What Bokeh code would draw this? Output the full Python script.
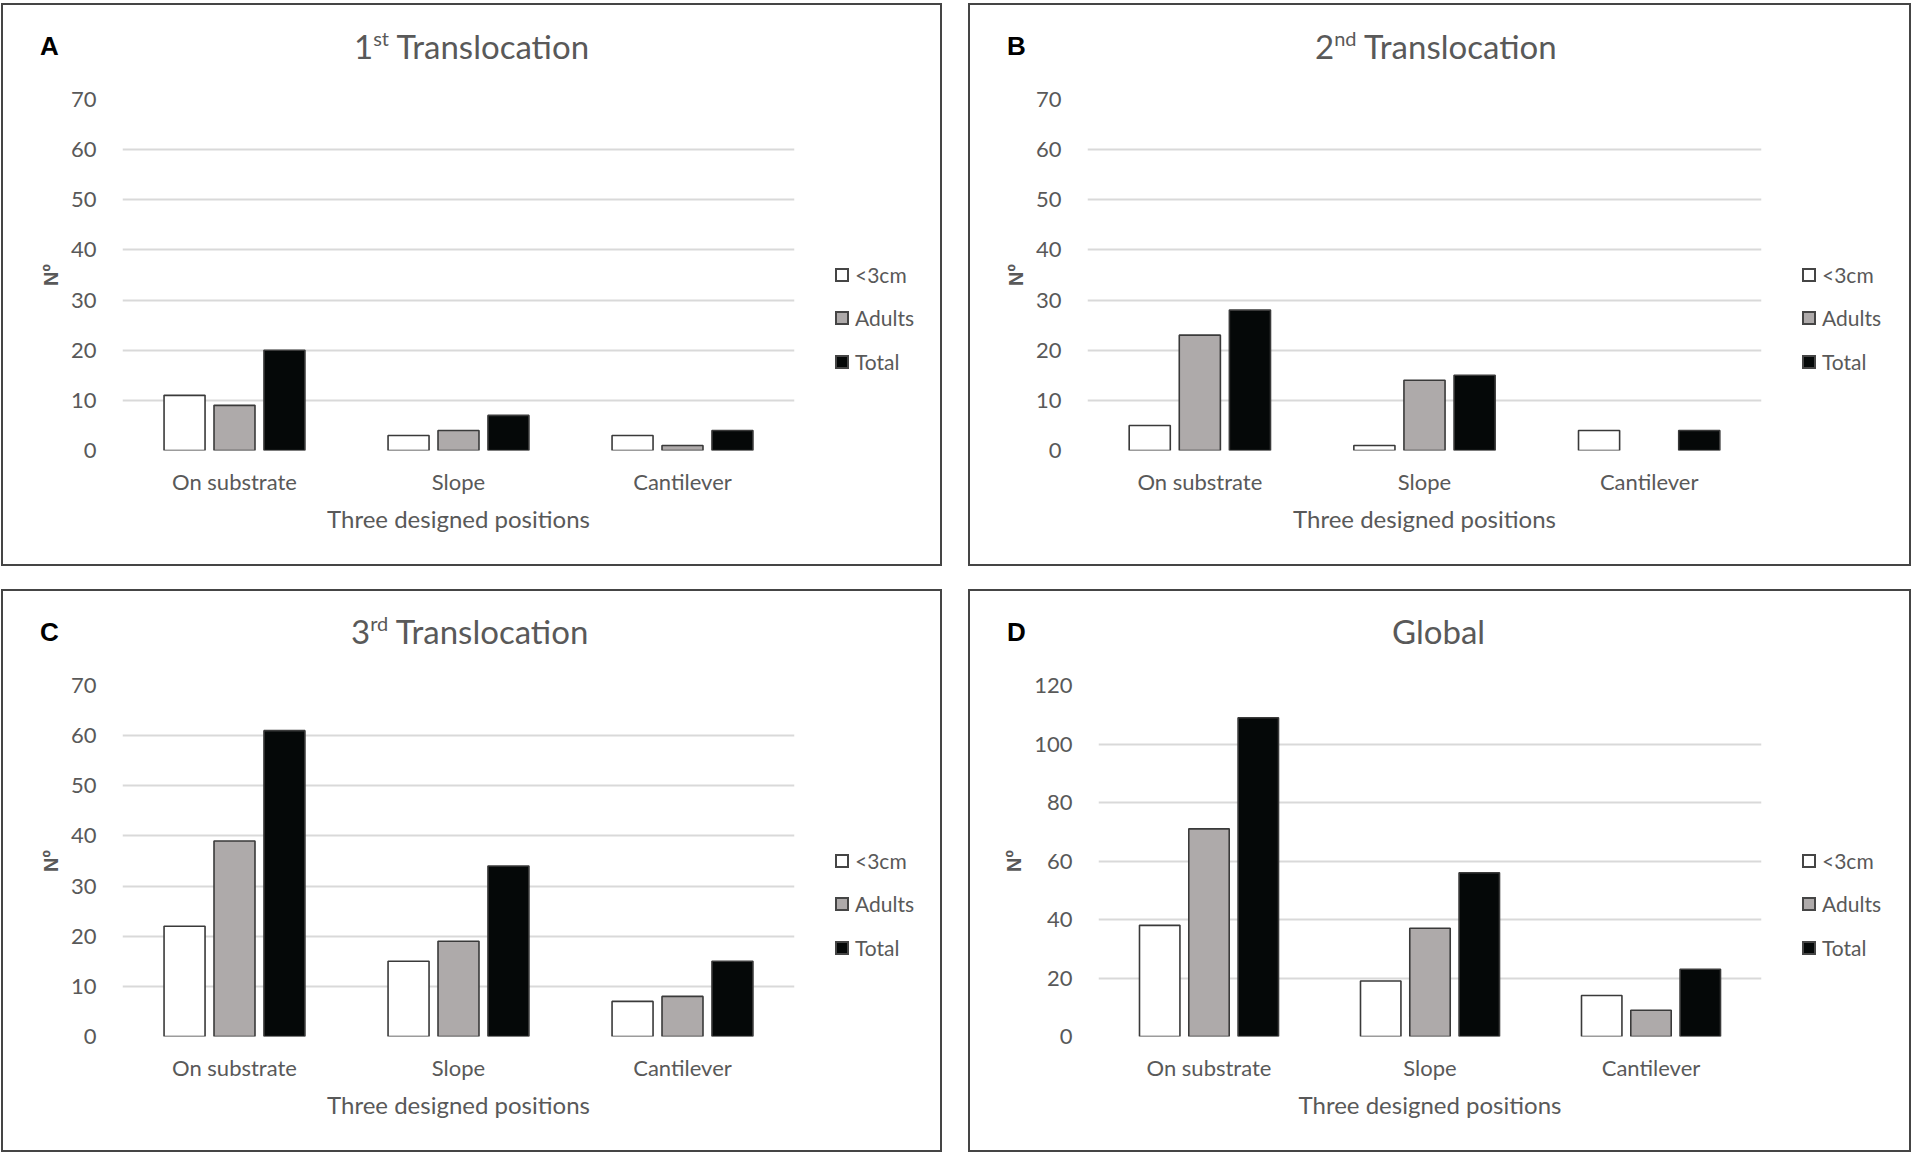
import html
from bokeh.plotting import figure
from bokeh.layouts import row, column
from bokeh.models import (FactorRange, Range1d, SingleIntervalTicker, ColumnDataSource,
                          CDSView, BooleanFilter, Div, Spacer)
from bokeh.transform import dodge
from bokeh.embed import file_html
from bokeh.resources import INLINE

# ---------------- data ----------------
positions = ["On substrate", "Slope", "Cantilever"]
series_names = ["<3cm", "Adults", "Total"]

t1_small = [11, 3, 3]
t1_adults = [9, 4, 1]
t1_total = [20, 7, 4]

t2_small = [5, 1, 4]
t2_adults = [23, 14, 0]
t2_total = [28, 15, 4]

t3_small = [22, 15, 7]
t3_adults = [39, 19, 8]
t3_total = [61, 34, 15]

gl_small = [38, 19, 14]
gl_adults = [71, 37, 9]
gl_total = [109, 56, 23]

x_title = "Three designed positions"
y_title = "Nº"

# ---------------- style ----------------
FONT = "Lato"
TXT = "#595959"
GRID = "#D9D9D9"
EDGE = "#3a3a3a"
BORDER = "#454545"
FILLS = ["#FFFFFF", "#AEAAAA", "#050808"]

PANEL_H = 563          # outer height incl. 2px border
INNER_H = PANEL_H - 4
TITLE_H = 62
FIG_H = INNER_H - TITLE_H
FIG_W = 793
FRAME_TOP = 94 - TITLE_H
FRAME_H = 351


def bar(w, h):
    return Div(text="", width=w, height=h, margin=0,
               styles={"background-color": BORDER})


def legend_html(width):
    rows = []
    for name, fill, cy in zip(series_names, FILLS, [208, 251, 295]):
        rows.append(
            f'<div style="position:absolute;left:39px;top:{cy - 13}px;height:26px;'
            f'display:flex;align-items:center;white-space:nowrap;">'
            f'<span style="display:inline-block;box-sizing:border-box;width:14px;height:14px;'
            f'background:{fill};border:2px solid {BORDER};"></span>'
            f'<span style="margin-left:6px;font-family:Lato;font-size:21px;color:{TXT};'
            f'line-height:26px;">{html.escape(name)}</span></div>')
    return (f'<div style="position:relative;width:{width}px;height:{FIG_H}px;">'
            + "".join(rows) + "</div>")


def title_html(width, letter, main, sup, rest, tx, ttop):
    if sup:
        title = (f'{main}<span style="font-size:20px;position:relative;top:-13px;'
                 f'line-height:0;">{sup}</span> {rest}')
    else:
        title = main
    return (f'<div style="position:relative;width:{width}px;height:{TITLE_H}px;">'
            f'<div style="position:absolute;left:37px;top:28px;font-family:\'Liberation Sans\';'
            f'font-weight:bold;font-size:26px;line-height:26px;color:black;">{letter}</div>'
            f'<div style="position:absolute;left:{tx}px;top:{ttop}px;font-family:Lato;'
            f'font-size:33px;line-height:33px;color:{TXT};white-space:nowrap;">{title}</div>'
            f'</div>')


def make_panel(inner_w, letter, main, sup, rest, tx, ttop, small, adults, total,
               ymax, ystep, left):
    p = figure(width=FIG_W, height=FIG_H, output_backend="svg", toolbar_location=None,
               x_range=FactorRange(factors=positions, range_padding=0),
               y_range=Range1d(0, ymax),
               min_border_left=left, min_border_right=2,
               min_border_top=FRAME_TOP, min_border_bottom=FIG_H - FRAME_TOP - FRAME_H,
               outline_line_color=None, background_fill_color="white",
               border_fill_color="white", margin=0)
    src = ColumnDataSource(dict(pos=positions, small=small, adults=adults, total=total))
    for key, off, fill in zip(["small", "adults", "total"], [-0.223, 0.0, 0.223], FILLS):
        view = CDSView(filter=BooleanFilter([v > 0 for v in src.data[key]]))
        p.vbar(x=dodge("pos", off, range=p.x_range), top=key, width=0.183,
               source=src, view=view, fill_color=fill, line_color=EDGE, line_width=1.6)

    p.yaxis.ticker = SingleIntervalTicker(interval=ystep)
    p.ygrid.ticker = SingleIntervalTicker(interval=ystep)
    p.ygrid.grid_line_color = GRID
    p.ygrid.grid_line_width = 2
    p.xgrid.grid_line_color = None

    for ax in (p.xaxis[0], p.yaxis[0]):
        ax.axis_line_color = None
        ax.major_tick_line_color = None
        ax.minor_tick_line_color = None
        ax.major_tick_out = 0
        ax.major_label_text_font = FONT
        ax.major_label_text_font_size = "22px"
        ax.major_label_text_color = TXT
        ax.axis_label_text_color = TXT
        ax.axis_label_text_font = FONT
        ax.axis_label_text_font_style = "normal"

    p.yaxis.major_label_standoff = 22
    p.yaxis.axis_label = y_title
    p.yaxis.axis_label_text_font = "Liberation Sans"
    p.yaxis.axis_label_text_font_style = "bold"
    p.yaxis.axis_label_text_font_size = "20px"
    p.yaxis.axis_label_standoff = 6

    p.xaxis.major_label_standoff = 17
    p.xaxis.axis_label = x_title
    p.xaxis.axis_label_text_font_size = "24px"
    p.xaxis.axis_label_standoff = 6

    tdiv = Div(text=title_html(inner_w, letter, main, sup, rest, tx, ttop),
               width=inner_w, height=TITLE_H, margin=0)
    ldiv = Div(text=legend_html(inner_w - FIG_W), width=inner_w - FIG_W, height=FIG_H, margin=0)
    inner = column(bar(inner_w, 2), tdiv, row(p, ldiv), bar(inner_w, 2))
    return row(bar(2, PANEL_H), inner, bar(2, PANEL_H))


pA = make_panel(937, "A", "1", "st", "Translocation", 351, 25,
                t1_small, t1_adults, t1_total, 70, 10, 119)
pB = make_panel(939, "B", "2", "nd", "Translocation", 345, 25,
                t2_small, t2_adults, t2_total, 70, 10, 117)
pC = make_panel(937, "C", "3", "rd", "Translocation", 348, 24,
                t3_small, t3_adults, t3_total, 70, 10, 119)
pD = make_panel(939, "D", "Global", None, None, 422, 24,
                gl_small, gl_adults, gl_total, 120, 20, 128)

layout = column(
    Spacer(height=3, width=10, margin=0),
    row(Spacer(width=1, height=10, margin=0), pA, Spacer(width=26, height=10, margin=0), pB),
    Spacer(height=23, width=10, margin=0),
    row(Spacer(width=1, height=10, margin=0), pC, Spacer(width=26, height=10, margin=0), pD),
)

open("out.html", "w").write(file_html(layout, INLINE))
